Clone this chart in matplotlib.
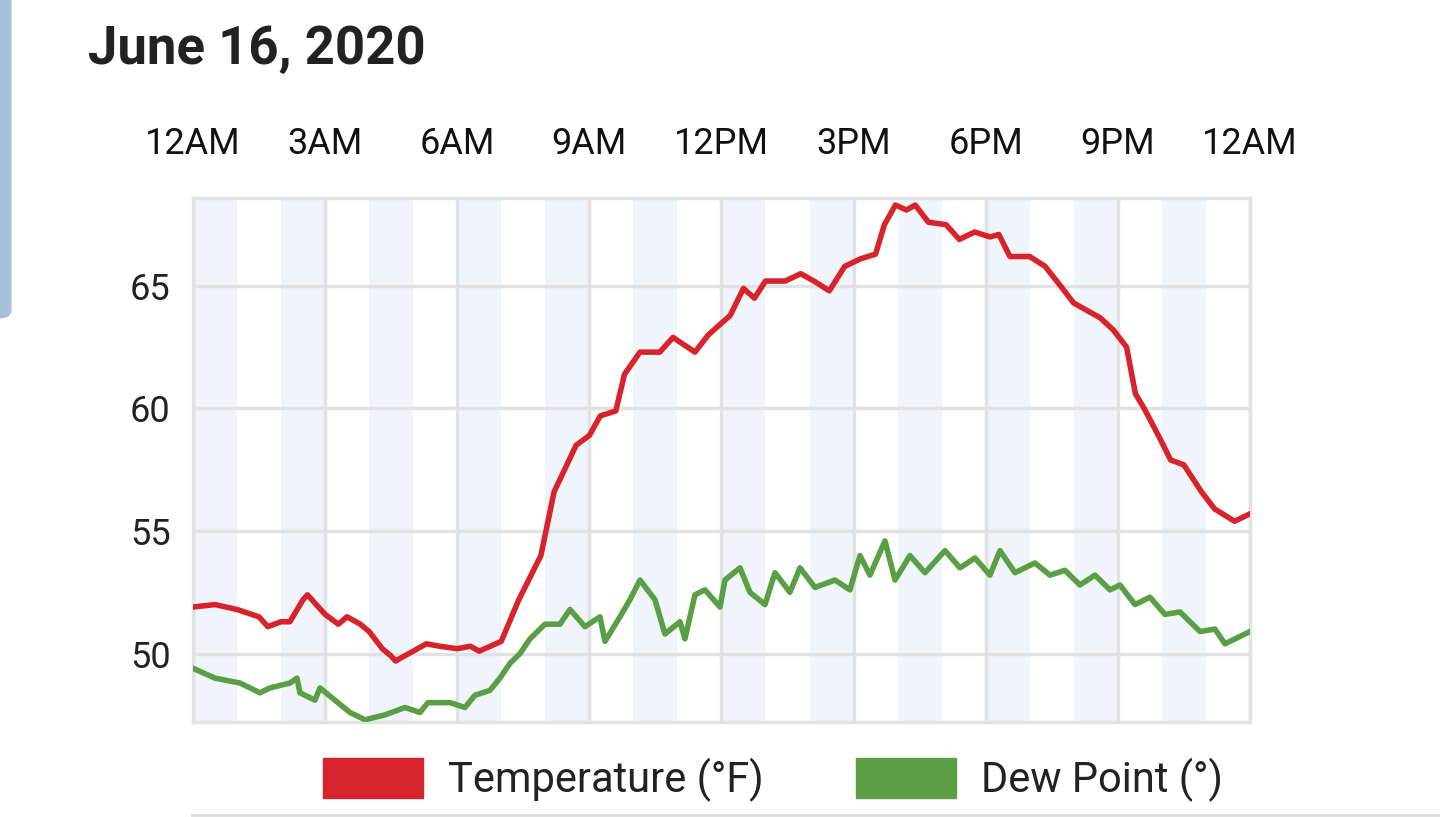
import matplotlib.pyplot as plt
import numpy as np
from matplotlib.patches import Patch, FancyBboxPatch

plt.rcParams['font.family'] = ['Roboto', 'DejaVu Sans']

TEMP_HOURS = [0, 0.5, 1, 1.5, 1.7, 2, 2.2, 2.5, 2.6, 3, 3.3, 3.5, 3.8, 4, 4.3, 4.5, 4.6, 5, 5.3, 5.6,
              6, 6.3, 6.5, 7, 7.4, 7.9, 8.2, 8.7, 9.0, 9.25, 9.6, 9.8, 10.15, 10.6, 10.9, 11.4, 11.7,
              12.2, 12.5, 12.75, 13.0, 13.45, 13.8, 14.1, 14.45, 14.8, 15.15, 15.5, 15.7, 15.95, 16.2,
              16.4, 16.7, 17.1, 17.4, 17.75, 18.1, 18.3, 18.55, 19.0, 19.35, 19.7, 20.0, 20.4, 20.6,
              20.9, 21.2, 21.4, 21.6, 21.95, 22.2, 22.5, 22.9, 23.2, 23.65, 24.0]
TEMPS = [51.9, 52.0, 51.8, 51.5, 51.1, 51.3, 51.3, 52.2, 52.4, 51.6, 51.2, 51.5, 51.2, 50.9, 50.2,
         49.9, 49.7, 50.1, 50.4, 50.3, 50.2, 50.3, 50.1, 50.5, 52.2, 54.0, 56.6, 58.5, 58.9, 59.7,
         59.9, 61.4, 62.3, 62.3, 62.9, 62.3, 63.0, 63.8, 64.9, 64.5, 65.2, 65.2, 65.5, 65.2, 64.8,
         65.8, 66.1, 66.3, 67.5, 68.3, 68.1, 68.3, 67.6, 67.5, 66.9, 67.2, 67.0, 67.1, 66.2, 66.2,
         65.8, 65.0, 64.3, 63.9, 63.7, 63.2, 62.5, 60.6, 60.0, 58.8, 57.9, 57.7, 56.6, 55.9, 55.4, 55.7]

DEW_PX = [193, 215, 240, 260, 270, 290, 297, 300, 315, 320, 335, 350, 365, 375, 385, 405, 420, 428,
          450, 465, 475, 490, 500, 510, 520, 530, 545, 560, 570, 585, 600, 605, 620, 630, 640, 655,
          665, 680, 685, 695, 705, 720, 725, 740, 750, 765, 775, 790, 800, 815, 835, 850, 860, 870,
          885, 895, 910, 925, 945, 960, 975, 990, 1000, 1015, 1035, 1050, 1065, 1080, 1095, 1110,
          1120, 1135, 1150, 1165, 1180, 1200, 1215, 1225, 1235, 1250]
DEWS = [49.4, 49.0, 48.8, 48.4, 48.6, 48.8, 49.0, 48.4, 48.1, 48.6, 48.1, 47.6, 47.3, 47.4, 47.5,
        47.8, 47.6, 48.0, 48.0, 47.8, 48.3, 48.5, 49.0, 49.6, 50.0, 50.6, 51.2, 51.2, 51.8, 51.1,
        51.5, 50.5, 51.5, 52.2, 53.0, 52.2, 50.8, 51.3, 50.6, 52.4, 52.6, 51.9, 53.0, 53.5, 52.5,
        52.0, 53.3, 52.5, 53.5, 52.7, 53.0, 52.6, 54.0, 53.2, 54.6, 53.0, 54.0, 53.3, 54.2, 53.5,
        53.9, 53.2, 54.2, 53.3, 53.7, 53.2, 53.4, 52.8, 53.2, 52.6, 52.8, 52.0, 52.3, 51.6, 51.7,
        50.9, 51.0, 50.4, 50.6, 50.9]
DEW_HOURS = [(px - 193) / 44.04 for px in DEW_PX]

TICK_LABELS = ['12AM', '3AM', '6AM', '9AM', '12PM', '3PM', '6PM', '9PM', '12AM']
RED = '#d7232c'
GREEN = '#5a9e45'


def weatherChart():
  figure = plt.figure(figsize=(14.4, 8.17), dpi=100)
  axis = figure.add_axes([0.134, 0.116, 0.734, 0.642])

  # shaded hour bands
  for hour in range(0, 24, 2):
    axis.axvspan(hour, hour + 1, color='#eff5fb', zorder=0, lw=0)

  axis.plot(TEMP_HOURS, TEMPS, color=RED, linewidth=4, zorder=3)
  axis.plot(DEW_HOURS, DEWS, color=GREEN, linewidth=4, zorder=3)

  axis.set_xlim(0, 24)
  axis.set_ylim(47.2, 68.6)
  axis.set_xticks(np.arange(0, 25, 3), TICK_LABELS)
  axis.set_yticks([50, 55, 60, 65])
  axis.xaxis.tick_top()
  axis.tick_params(axis='x', length=0, pad=26, labelsize=26, colors='#111111')
  axis.tick_params(axis='y', length=0, pad=16, labelsize=26, colors='#222222')
  axis.grid(True, color='#e2e2e2', linewidth=2.5, zorder=1)
  axis.set_axisbelow(True)
  for spine in axis.spines.values():
    spine.set_color('#e2e2e2')
    spine.set_linewidth(2.5)

  figure.text(0.061, 0.94, 'June 16, 2020', fontsize=38, fontweight='bold',
              color='#222222', va='center')

  handles = [Patch(color=RED, label='Temperature (°F)'),
             Patch(color=GREEN, label='Dew Point (°)')]
  figure.legend(handles=handles, loc='center right', bbox_to_anchor=(0.875, 0.045),
                ncols=2, frameon=False, fontsize=30, handlelength=2.4, handleheight=1.1,
                handletextpad=0.6, columnspacing=2.2, labelcolor='#222222')

  # fragment of the side panel on the left
  figure.patches.append(FancyBboxPatch((-0.02, 0.61), 0.028, 0.42,
                                       boxstyle='round,pad=0,rounding_size=0.01',
                                       transform=figure.transFigure, facecolor='#a7bfd8',
                                       edgecolor='none'))
  figure.lines.append(plt.Line2D([0.133, 1.0], [0.003, 0.003], transform=figure.transFigure,
                                 color='#dddddd', linewidth=2))

  figure.savefig('out.png', dpi=100)
  return


if __name__ == "__main__":
  weatherChart()
